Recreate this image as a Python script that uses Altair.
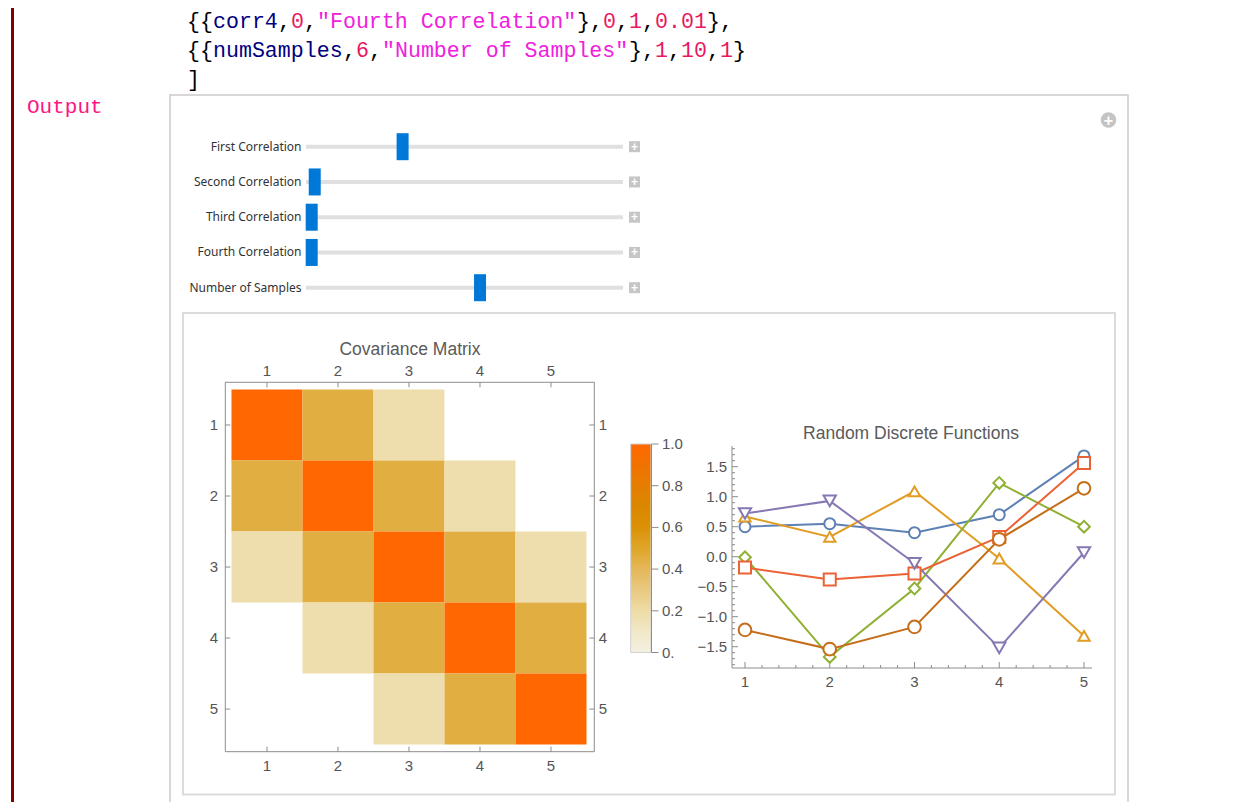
import altair as alt
import pandas as pd

# ---------------- data ----------------
# code lines of the notebook input (segment text, token kind)
code_line1 = [("{{", "p"), ("corr4", "s"), (",", "p"), ("0", "n"), (",", "p"),
              ('"Fourth Correlation"', "t"), ("},", "p"), ("0", "n"), (",", "p"),
              ("1", "n"), (",", "p"), ("0.01", "n"), ("},", "p")]
code_line2 = [("{{", "p"), ("numSamples", "s"), (",", "p"), ("6", "n"), (",", "p"),
              ('"Number of Samples"', "t"), ("},", "p"), ("1", "n"), (",", "p"),
              ("10", "n"), (",", "p"), ("1", "n"), ("}", "p")]
code_line3 = [("]", "p")]
output_label = "Output"

slider_labels = ["First Correlation", "Second Correlation", "Third Correlation",
                 "Fourth Correlation", "Number of Samples"]
slider_values = [0.30, 0.01, 0.0, 0.0, 6]
slider_min = [0, 0, 0, 0, 1]
slider_max = [1, 1, 1, 1, 10]

matrix_title = "Covariance Matrix"
matrix_index = [1, 2, 3, 4, 5]
matrix_labels = ["1", "2", "3", "4", "5"]
cov_matrix = [
    [1.00, 0.45, 0.18, 0.00, 0.00],
    [0.45, 1.00, 0.45, 0.18, 0.00],
    [0.18, 0.45, 1.00, 0.45, 0.18],
    [0.00, 0.18, 0.45, 1.00, 0.45],
    [0.00, 0.00, 0.18, 0.45, 1.00],
]

cb_ticks = [0.0, 0.2, 0.4, 0.6, 0.8, 1.0]
cb_labels = ["0.", "0.2", "0.4", "0.6", "0.8", "1.0"]
cb_stop_values = [0.0, 0.1, 0.2, 0.3, 0.4, 0.5, 0.6, 0.7, 0.8, 0.9, 1.0]
cb_stop_colors = ["#F4F1E2", "#F1E8C8", "#EEDCA6", "#E9C980", "#E4B75A", "#DEA628",
                  "#DA9108", "#DC8700", "#E57D00", "#F17200", "#FF6800"]

lines_title = "Random Discrete Functions"
steps = [1, 2, 3, 4, 5]
series_names = ["s1", "s2", "s3", "s4", "s5", "s6"]
s1 = [0.50, 0.55, 0.40, 0.70, 1.68]
s2 = [0.67, 0.33, 1.09, -0.03, -1.32]
s3 = [-0.01, -1.67, -0.53, 1.23, 0.50]
s4 = [-0.18, -0.38, -0.28, 0.33, 1.56]
s5 = [0.72, 0.93, -0.11, -1.52, 0.07]
s6 = [-1.22, -1.54, -1.17, 0.29, 1.14]
y_major = [-1.5, -1.0, -0.5, 0.0, 0.5, 1.0, 1.5]
y_major_labels = ["\u22121.5", "\u22121.0", "\u22120.5", "0.0", "0.5", "1.0", "1.5"]
y_minor = [-1.8, -1.7, -1.6, -1.4, -1.3, -1.2, -1.1, -0.9, -0.8, -0.7, -0.6,
           -0.4, -0.3, -0.2, -0.1, 0.1, 0.2, 0.3, 0.4, 0.6, 0.7, 0.8, 0.9,
           1.1, 1.2, 1.3, 1.4, 1.6, 1.7, 1.8]
x_major_labels = ["1", "2", "3", "4", "5"]
x_minor = [1.2, 1.4, 1.6, 1.8, 2.2, 2.4, 2.6, 2.8, 3.2, 3.4, 3.6, 3.8,
           4.2, 4.4, 4.6, 4.8]

# ---------------- styles ----------------
W, H = 1241, 794
M = 8
def P(v):
    return v - M

token_colors = {"p": "#000000", "s": "#000080", "n": "#E8195E", "t": "#F020DC"}
series_colors = ["#5E81B5", "#E19C24", "#8FB032", "#EB6235", "#8778B3", "#C56E1A"]
series_shapes = ["circle", "triangle-up", "diamond", "square", "triangle-down", "circle"]
series_sizes = [121, 160, 160, 100, 160, 121]
AX = "#8C8C8C"
LBL = "#555555"
SANS = "Liberation Sans"
MONO = "Liberation Mono"
TICK_FS = 15


def lin(dom, rng):
    return alt.Scale(domain=dom, range=rng, nice=False, zero=False)


def one(**kw):
    return pd.DataFrame({k: [v] for k, v in kw.items()})


layers = []

# ---------------- notebook chrome ----------------
layers.append(alt.Chart(one(a=0)).mark_rule(color="#800000", strokeWidth=3).encode(
    x=alt.value(P(12.5)), y=alt.value(0), y2=alt.value(H)))
layers.append(alt.Chart(one(a=0)).mark_rect(fillOpacity=0, stroke="#CBCBCB", strokeWidth=1.5).encode(
    x=alt.value(P(170)), x2=alt.value(P(1128)), y=alt.value(P(95)), y2=alt.value(P(807))))
layers.append(alt.Chart(one(a=0)).mark_rect(fillOpacity=0, stroke="#DCDCDC", strokeWidth=2).encode(
    x=alt.value(P(183)), x2=alt.value(P(1115)), y=alt.value(P(313)), y2=alt.value(P(794.5))))
layers.append(alt.Chart(one(a=0)).mark_point(shape="circle", filled=True, size=240, color="#C4C4C4", opacity=1).encode(
    x=alt.value(P(1108.5)), y=alt.value(P(120))))
layers.append(alt.Chart(one(t="+")).mark_text(font=SANS, fontSize=16, fontWeight="bold", color="white",
                                               baseline="middle", align="center").encode(
    x=alt.value(P(1108.5)), y=alt.value(P(120.5)), text="t:N"))

# code text
rows = []
for li, segs in enumerate([code_line1, code_line2, code_line3]):
    pos = 0
    for txt, kind in segs:
        rows.append({"line": li, "start": pos, "txt": txt, "col": token_colors[kind]})
        pos += len(txt)
code_df = pd.DataFrame(rows)
layers.append(alt.Chart(code_df).mark_text(font=MONO, fontSize=21.6, align="left", baseline="middle").encode(
    x=alt.X("start:Q", scale=lin([0, 1], [P(187), P(187) + 13.0]), axis=None),
    y=alt.Y("line:Q", scale=lin([0, 1], [P(22), P(51)]), axis=None),
    text="txt:N",
    color=alt.Color("col:N", scale=None, legend=None)))
layers.append(alt.Chart(one(t=output_label)).mark_text(font=MONO, fontSize=21.0, align="left",
                                                        baseline="middle", color="#FF1480").encode(
    x=alt.value(P(27)), y=alt.value(P(107)), text="t:N"))

# ---------------- sliders ----------------
sl_df = pd.DataFrame({"row": list(range(len(slider_labels))), "label": slider_labels,
                      "value": slider_values, "mn": slider_min, "mx": slider_max})
sl_y = lambda: lin([0, 4], [P(146.7), P(287.7)])
layers.append(alt.Chart(sl_df).mark_text(font="Noto Sans", fontSize=12, color="#333333",
                                          align="right", baseline="middle").encode(
    x=alt.value(P(301.5)), y=alt.Y("row:Q", scale=sl_y(), axis=None), text="label:N"))
layers.append(alt.Chart(sl_df).mark_rule(color="#E0E0E0", strokeWidth=4).encode(
    x=alt.value(P(306)), x2=alt.value(P(623)), y=alt.Y("row:Q", scale=sl_y(), axis=None)))
layers.append(alt.Chart(sl_df).mark_point(shape="square", filled=True, size=121, color="#C6C6C6", opacity=1).encode(
    x=alt.value(P(634.5)), y=alt.Y("row:Q", scale=sl_y(), axis=None)))
layers.append(alt.Chart(sl_df).mark_text(font=SANS, fontSize=12, fontWeight="bold", color="white",
                                          align="center", baseline="middle").encode(
    x=alt.value(P(634.5)), y=alt.Y("row:Q", scale=sl_y(), axis=None), text=alt.value("+")))
layers.append(alt.Chart(sl_df).transform_calculate(
    frac="(datum.value - datum.mn) / (datum.mx - datum.mn)").mark_tick(
    orient="vertical", thickness=12, size=27, color="#0078D7", opacity=1).encode(
    x=alt.X("frac:Q", scale=lin([0, 1], [P(311.7), P(614.7)]), axis=None),
    y=alt.Y("row:Q", scale=sl_y(), axis=None)))

# ---------------- covariance matrix ----------------
HX = [0.413, 5.61]
HY = [0.399, 5.60]
hx = lambda: lin(HX, [P(225.3), P(594.3)])
hy = lambda: lin(HY, [P(382.3), P(751.7)])
color_scale = alt.Scale(domain=cb_stop_values, range=cb_stop_colors, interpolate="rgb")

cells = pd.DataFrame([{"r": matrix_index[i], "c": matrix_index[j], "v": cov_matrix[i][j]}
                      for i in range(5) for j in range(5)])
layers.append(alt.Chart(cells).transform_filter("datum.v > 0").transform_calculate(
    c0="datum.c - 0.5", c1="datum.c + 0.5", r0="datum.r - 0.5", r1="datum.r + 0.5").mark_rect(
    strokeWidth=0).encode(
    x=alt.X("c0:Q", scale=hx(), axis=None), x2="c1:Q",
    y=alt.Y("r0:Q", scale=hy(), axis=None), y2="r1:Q",
    color=alt.Color("v:Q", scale=color_scale, legend=None)))
layers.append(alt.Chart(one(a=HX[0], b=HX[1], c=HY[0], d=HY[1])).mark_rect(
    fillOpacity=0, stroke=AX, strokeWidth=1).encode(
    x=alt.X("a:Q", scale=hx(), axis=None), x2="b:Q",
    y=alt.Y("c:Q", scale=hy(), axis=None), y2="d:Q"))
idx_df = pd.DataFrame({"i": matrix_index, "lab": matrix_labels})
for y0, y1 in [(382.3, 387.3), (751.7, 746.7)]:
    layers.append(alt.Chart(idx_df).mark_rule(color=AX, strokeWidth=1).encode(
        x=alt.X("i:Q", scale=hx(), axis=None), y=alt.value(P(y0)), y2=alt.value(P(y1))))
for x0, x1 in [(225.3, 230.3), (594.3, 589.3)]:
    layers.append(alt.Chart(idx_df).mark_rule(color=AX, strokeWidth=1).encode(
        y=alt.Y("i:Q", scale=hy(), axis=None), x=alt.value(P(x0)), x2=alt.value(P(x1))))
for yy in [371, 765.5]:
    layers.append(alt.Chart(idx_df).mark_text(font=SANS, fontSize=TICK_FS, color=LBL, baseline="middle").encode(
        x=alt.X("i:Q", scale=hx(), axis=None), y=alt.value(P(yy)), text="lab:N"))
for xx in [214, 603]:
    layers.append(alt.Chart(idx_df).mark_text(font=SANS, fontSize=TICK_FS, color=LBL, baseline="middle").encode(
        y=alt.Y("i:Q", scale=hy(), axis=None), x=alt.value(P(xx)), text="lab:N"))
layers.append(alt.Chart(one(t=matrix_title)).mark_text(font=SANS, fontSize=17.5, color="#5A5A5A",
                                                        baseline="middle").encode(
    x=alt.value(P(410)), y=alt.value(P(350)), text="t:N"))

# ---------------- colour bar ----------------
cby = lambda: lin([0, 1], [P(652.5), P(444)])
grad = alt.Gradient(gradient="linear",
                    stops=[alt.GradientStop(offset=v, color=c) for v, c in zip(cb_stop_values, cb_stop_colors)],
                    x1=0, x2=0, y1=1, y2=0)
layers.append(alt.Chart(one(lo=0.0, hi=1.0)).mark_rect(color=grad, stroke="#D2D2D2", strokeWidth=1).encode(
    x=alt.value(P(630.7)), x2=alt.value(P(651)),
    y=alt.Y("hi:Q", scale=cby(), axis=None), y2="lo:Q"))
layers.append(alt.Chart(one(lo=0.0, hi=1.0)).mark_rule(color=AX, strokeWidth=1).encode(
    x=alt.value(P(651.5)), y=alt.Y("hi:Q", scale=cby(), axis=None), y2="lo:Q"))
cb_df = pd.DataFrame({"v": cb_ticks, "lab": cb_labels})
layers.append(alt.Chart(cb_df).mark_rule(color=AX, strokeWidth=1).encode(
    x=alt.value(P(651.5)), x2=alt.value(P(658.5)), y=alt.Y("v:Q", scale=cby(), axis=None)))
layers.append(alt.Chart(cb_df).mark_text(font=SANS, fontSize=TICK_FS, color=LBL, align="left",
                                          baseline="middle").encode(
    x=alt.value(P(662)), y=alt.Y("v:Q", scale=cby(), axis=None), text="lab:N"))

# ---------------- random discrete functions ----------------
lx = lambda: lin([1, 5], [P(745), P(1084)])
ly = lambda: lin([-1.5, 1.5], [P(646.7), P(466.7)])
layers.append(alt.Chart(one(a=0)).mark_rule(color=AX, strokeWidth=1).encode(
    x=alt.value(P(732)), x2=alt.value(P(1092)), y=alt.value(P(668))))
layers.append(alt.Chart(one(a=0)).mark_rule(color=AX, strokeWidth=1).encode(
    x=alt.value(P(732)), y=alt.value(P(446)), y2=alt.value(P(668))))
ymaj = pd.DataFrame({"v": y_major, "lab": y_major_labels})
layers.append(alt.Chart(ymaj).mark_rule(color=AX, strokeWidth=1).encode(
    y=alt.Y("v:Q", scale=ly(), axis=None), x=alt.value(P(732)), x2=alt.value(P(738))))
layers.append(alt.Chart(pd.DataFrame({"v": y_minor})).mark_rule(color=AX, strokeWidth=1).encode(
    y=alt.Y("v:Q", scale=ly(), axis=None), x=alt.value(P(732)), x2=alt.value(P(735))))
layers.append(alt.Chart(ymaj).mark_text(font=SANS, fontSize=TICK_FS, color=LBL, align="right",
                                         baseline="middle").encode(
    y=alt.Y("v:Q", scale=ly(), axis=None), x=alt.value(P(727)), text="lab:N"))
xmaj = pd.DataFrame({"v": steps, "lab": x_major_labels})
layers.append(alt.Chart(xmaj).mark_rule(color=AX, strokeWidth=1).encode(
    x=alt.X("v:Q", scale=lx(), axis=None), y=alt.value(P(668)), y2=alt.value(P(662))))
layers.append(alt.Chart(pd.DataFrame({"v": x_minor})).mark_rule(color=AX, strokeWidth=1).encode(
    x=alt.X("v:Q", scale=lx(), axis=None), y=alt.value(P(668)), y2=alt.value(P(665))))
layers.append(alt.Chart(xmaj).mark_text(font=SANS, fontSize=TICK_FS, color=LBL, baseline="middle").encode(
    x=alt.X("v:Q", scale=lx(), axis=None), y=alt.value(P(682)), text="lab:N"))
layers.append(alt.Chart(one(t=lines_title)).mark_text(font=SANS, fontSize=17.5, color="#5A5A5A",
                                                       baseline="middle").encode(
    x=alt.value(P(911)), y=alt.value(P(434)), text="t:N"))

series_df = pd.DataFrame([{"series": n, "step": steps[k], "val": vals[k], "order": i}
                          for i, (n, vals) in enumerate(zip(series_names, [s1, s2, s3, s4, s5, s6]))
                          for k in range(len(steps))])
col_scale = lambda: alt.Scale(domain=series_names, range=series_colors)
layers.append(alt.Chart(series_df).mark_line(strokeWidth=2).encode(
    x=alt.X("step:Q", scale=lx(), axis=None),
    y=alt.Y("val:Q", scale=ly(), axis=None),
    color=alt.Color("series:N", scale=col_scale(), legend=None)))
layers.append(alt.Chart(series_df).mark_point(filled=False, fill="white", fillOpacity=1, strokeWidth=2,
                                               opacity=1).encode(
    x=alt.X("step:Q", scale=lx(), axis=None),
    y=alt.Y("val:Q", scale=ly(), axis=None),
    color=alt.Color("series:N", scale=col_scale(), legend=None),
    shape=alt.Shape("series:N", scale=alt.Scale(domain=series_names, range=series_shapes), legend=None),
    size=alt.Size("series:N", scale=alt.Scale(domain=series_names, range=series_sizes), legend=None),
    order="order:Q"))

chart = alt.layer(*layers).resolve_scale(
    x="independent", y="independent", color="independent", shape="independent", size="independent"
).properties(
    width=W, height=H, autosize=alt.AutoSizeParams(type="none"), padding=0
).configure_view(stroke=None)

chart.save("out.html", embed_options={"renderer": "svg", "actions": False})
